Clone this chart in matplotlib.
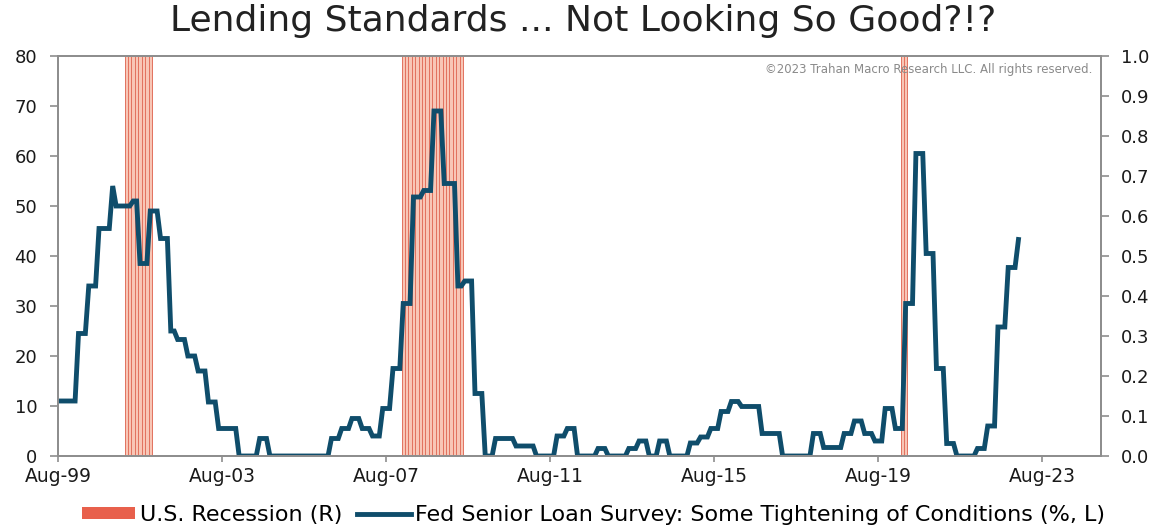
import numpy as np
import matplotlib
matplotlib.use("Agg")
import matplotlib.pyplot as plt
from matplotlib.patches import Patch
from matplotlib.lines import Line2D

# months counted from Aug-1999 (0) ; survey readings change at these months
change_month = [0, 6, 9, 12, 16, 17, 22, 24, 27, 30, 33, 35, 38, 41, 44, 47, 53,
                59, 62, 80, 83, 86, 89, 92, 95, 98, 101, 104, 107, 110, 113, 117,
                119, 122, 125, 128, 134, 140, 146, 149, 152, 158, 161, 167, 170,
                173, 176, 179, 185, 188, 191, 194, 197, 200, 206, 212, 221, 224,
                230, 233, 236, 239, 242, 245, 248, 251, 254, 257, 260, 263, 269,
                272, 275, 278, 281]
tightening = [11, 24.5, 34, 45.5, 54, 50, 51, 38.5, 49, 43.5, 25, 23.3, 20, 17,
              10.8, 5.5, 0, 3.5, 0, 3.5, 5.5, 7.5, 5.5, 4, 9.5, 17.5, 30.5, 51.8,
              53.1, 69, 54.5, 34, 35, 12.5, 0, 3.5, 2, 0, 4, 5.5, 0, 1.5, 0, 1.5,
              3, 0, 3, 0, 2.6, 3.8, 5.5, 8.9, 10.9, 9.9, 4.5, 0, 4.5, 1.7, 4.5, 7,
              4.5, 3, 9.5, 5.5, 30.5, 60.5, 40.5, 17.5, 2.5, 0, 1.5, 6, 25.8,
              37.7, 43.3]
last_month = 281

# NBER recession months (USREC = 1)
recession_spans = [(20, 27), (101, 118), (247, 248)]

tick_months = [0, 48, 96, 144, 192, 240, 288]
tick_labels = ["Aug-99", "Aug-03", "Aug-07", "Aug-11", "Aug-15", "Aug-19", "Aug-23"]

months = np.arange(last_month + 1)
idx = np.searchsorted(change_month, months, side="right") - 1
series = np.array(tightening)[idx]

rec_months = np.concatenate([np.arange(a, b + 1) for a, b in recession_spans])

line_color = "#0f4d6b"
rec_face = "#f8c6b6"
rec_edge = "#e2725f"
spine_color = "#8e8e8e"

fig = plt.figure(figsize=(11.66, 5.26), dpi=100)
ax = fig.add_axes([58 / 1166, 70 / 526, 1042.5 / 1166, 400 / 526])
ax2 = ax.twinx()

ax2.bar(rec_months, np.ones(len(rec_months)), width=1.0, color=rec_face,
        edgecolor=rec_edge, linewidth=0.7)
ax2.set_ylim(0, 1.0)
ax2.set_yticks(np.arange(0, 1.01, 0.1))
ax2.set_yticklabels([f"{v:.1f}" for v in np.arange(0, 1.01, 0.1)])

ax.set_zorder(ax2.get_zorder() + 1)
ax.patch.set_visible(False)
ax.plot(months, series, color=line_color, lw=3.5, solid_joinstyle="miter")
ax.set_ylim(0, 80)
ax.set_yticks(range(0, 81, 10))
ax.set_xlim(0, 305)
ax.set_xticks(tick_months)
ax.set_xticklabels(tick_labels)

for a in (ax, ax2):
    for s in a.spines.values():
        s.set_color(spine_color)
        s.set_linewidth(1.4)
    a.tick_params(colors="#1a1a1a", labelsize=13, length=6, width=1.2,
                  direction="out", pad=9)
    a.tick_params(color=spine_color)
    for lab in a.get_xticklabels() + a.get_yticklabels():
        lab.set_family("DejaVu Sans")
ax.tick_params(axis="x", length=4, pad=4, labelsize=13.5)

fig.text(0.5, 0.960, "Lending Standards ... Not Looking So Good?!?",
         ha="center", va="center", fontsize=26, family="DejaVu Sans",
         color="#222222")
ax.text(0.992, 0.983, "\u00a92023 Trahan Macro Research LLC. All rights reserved.",
        transform=ax.transAxes, ha="right", va="top", fontsize=8.5,
        family="DejaVu Sans", color="#8a8a8a")

handles = [Patch(facecolor="#e8604c", edgecolor="none"),
           Line2D([0], [0], color=line_color, lw=3.5)]
fig.legend(handles, ["U.S. Recession (R)",
                     "Fed Senior Loan Survey: Some Tightening of Conditions (%, L)"],
           loc="center", bbox_to_anchor=(0.509, 0.021), ncol=2, frameon=False,
           prop={"family": "DejaVu Sans", "size": 16},
           handlelength=2.4, handleheight=0.45, handletextpad=0.2,
           columnspacing=0.7)

fig.savefig("out.png", dpi=100)
